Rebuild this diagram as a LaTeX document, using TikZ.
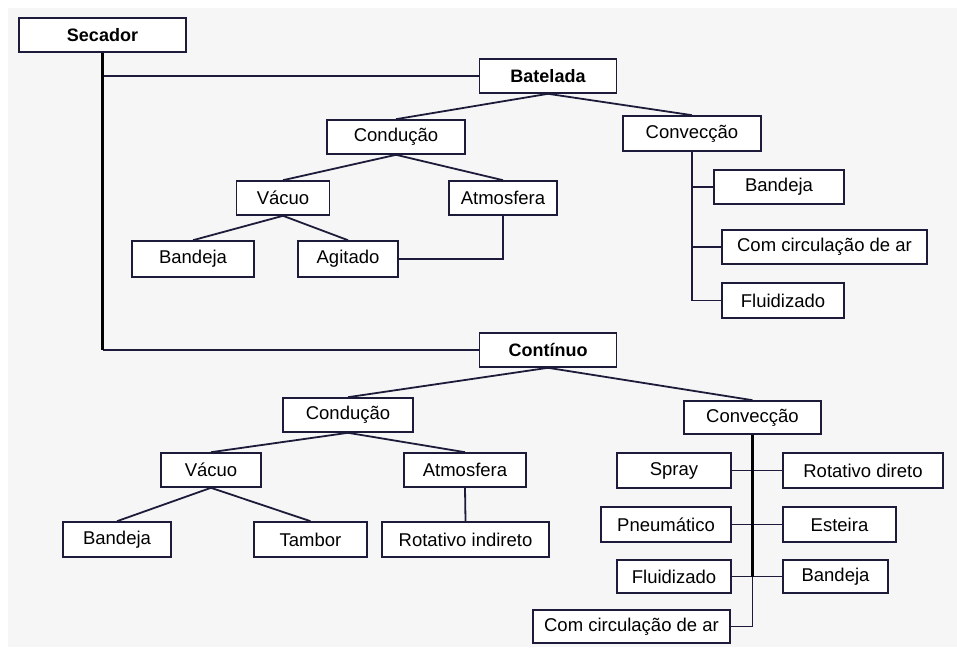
\documentclass[tikz,border=0pt]{standalone}
\usepackage{fontspec}
\setmainfont{Liberation Sans}
\definecolor{ln}{RGB}{28,28,58}
\definecolor{bg}{RGB}{246,246,246}
\tikzset{
  bx/.style={draw=ln, line width=1.6pt, fill=white, inner sep=0pt, minimum height=34pt, font=\fontsize{18.5}{21}\selectfont, text=black},
  bbx/.style={bx, font=\fontsize{18}{21}\selectfont\bfseries},
  cn/.style={draw=ln, line width=1.8pt},
  trunk/.style={draw=black!90!ln, line width=2.8pt},
}
\begin{document}
\begin{tikzpicture}[x=1pt,y=-1pt]
\useasboundingbox (0,0) rectangle (957,647);
\fill[bg] (8,8) rectangle (957,647);
% nodes
\node[bbx, minimum width=167pt] (sec) at (102.5,35) {Secador};
\node[bbx, minimum width=137pt] (bat) at (548,76) {Batelada};
\node[bx, minimum width=138pt] (con1) at (396,137) {Condução};
\node[bx, minimum width=138pt, minimum height=35pt] (cvx1) at (692,133.5) {Convecção};
\node[bx, minimum width=93pt] (vac1) at (283,198) {Vácuo};
\node[bx, minimum width=108pt] (atm1) at (503,198) {Atmosfera};
\node[bx, minimum width=122pt, minimum height=36pt] (band1) at (193,259) {Bandeja};
\node[bx, minimum width=100pt, minimum height=36pt] (agit) at (348,259) {Agitado};
\node[bx, minimum width=130pt] (bcv1) at (779,187) {Bandeja};
\node[bx, minimum width=205pt] (ccar1) at (824.5,247) {Com circulação de ar};
\node[bx, minimum width=122pt, minimum height=35pt] (flu1) at (783,300.5) {Fluidizado};
\node[bbx, minimum width=137pt] (cont) at (548,350) {Contínuo};
\node[bx, minimum width=130pt] (con2) at (348,415) {Condução};
\node[bx, minimum width=137pt, minimum height=33pt] (cvx2) at (752.5,417.5) {Convecção};
\node[bx, minimum width=100pt] (vac2) at (211,470) {Vácuo};
\node[bx, minimum width=122pt] (atm2) at (465,470) {Atmosfera};
\node[bx, minimum width=108pt, minimum height=35pt] (band2) at (117,539.5) {Bandeja};
\node[bx, minimum width=113pt, minimum height=35pt] (tamb) at (310.5,539.5) {Tambor};
\node[bx, minimum width=167pt, minimum height=35pt] (rotind) at (465.5,539.5) {Rotativo indireto};
\node[bx, minimum width=114pt, minimum height=35pt] (spray) at (674,470.5) {Spray};
\node[bx, minimum width=160pt, minimum height=35pt] (rotdir) at (863,470.5) {Rotativo direto};
\node[bx, minimum width=130pt, minimum height=35pt] (pneu) at (666,524.5) {Pneumático};
\node[bx, minimum width=113pt, minimum height=35pt] (est) at (839.5,524.5) {Esteira};
\node[bx, minimum width=114pt, minimum height=33pt] (flu2) at (674,576.5) {Fluidizado};
\node[bx, minimum width=105pt, minimum height=33pt] (band3) at (835.5,576.5) {Bandeja};
\node[bx, minimum width=197pt, minimum height=33pt] (ccar2) at (631.5,626.5) {Com circulação de ar};
% connectors
\draw[cn] (sec.south |- bat.west) -- (bat.west);
\draw[cn] (sec.south |- cont.west) -- (cont.west);
\draw[trunk] (sec.south) -- (sec.south |- cont.west);
\draw[cn] (bat.south) -- (con1.north);
\draw[cn] (bat.south) -- (cvx1.north);
\draw[cn] (con1.south) -- (vac1.north);
\draw[cn] (con1.south) -- (atm1.north);
\draw[cn] (vac1.south) -- (band1.north);
\draw[cn] (vac1.south) -- (agit.north);
\draw[cn] (atm1.south) -- (atm1.south |- agit.east) -- (agit.east);
\draw[cn] (cvx1.south |- bcv1.west) -- (bcv1.west);
\draw[cn] (cvx1.south |- ccar1.west) -- (ccar1.west);
\draw[cn] (cvx1.south |- flu1.west) -- (flu1.west);
\draw[cn, line width=2.4pt] (cvx1.south) -- (cvx1.south |- flu1.west);
\draw[cn] (cont.south) -- (con2.north);
\draw[cn] (cont.south) -- (cvx2.north);
\draw[cn] (con2.south) -- (vac2.north);
\draw[cn] (con2.south) -- (atm2.north);
\draw[cn] (vac2.south) -- (band2.north);
\draw[cn] (vac2.south) -- (tamb.north);
\draw[cn] (atm2.south) -- (rotind.north);
\draw[cn] (spray.east) -- (rotdir.west);
\draw[cn] (pneu.east) -- (est.west);
\draw[cn] (flu2.east) -- (band3.west);
\draw[cn] (cvx2.south |- flu2.east) -- (cvx2.south |- ccar2.east) -- (ccar2.east);
\draw[trunk] (cvx2.south) -- (cvx2.south |- flu2.east);
\end{tikzpicture}
\end{document}
